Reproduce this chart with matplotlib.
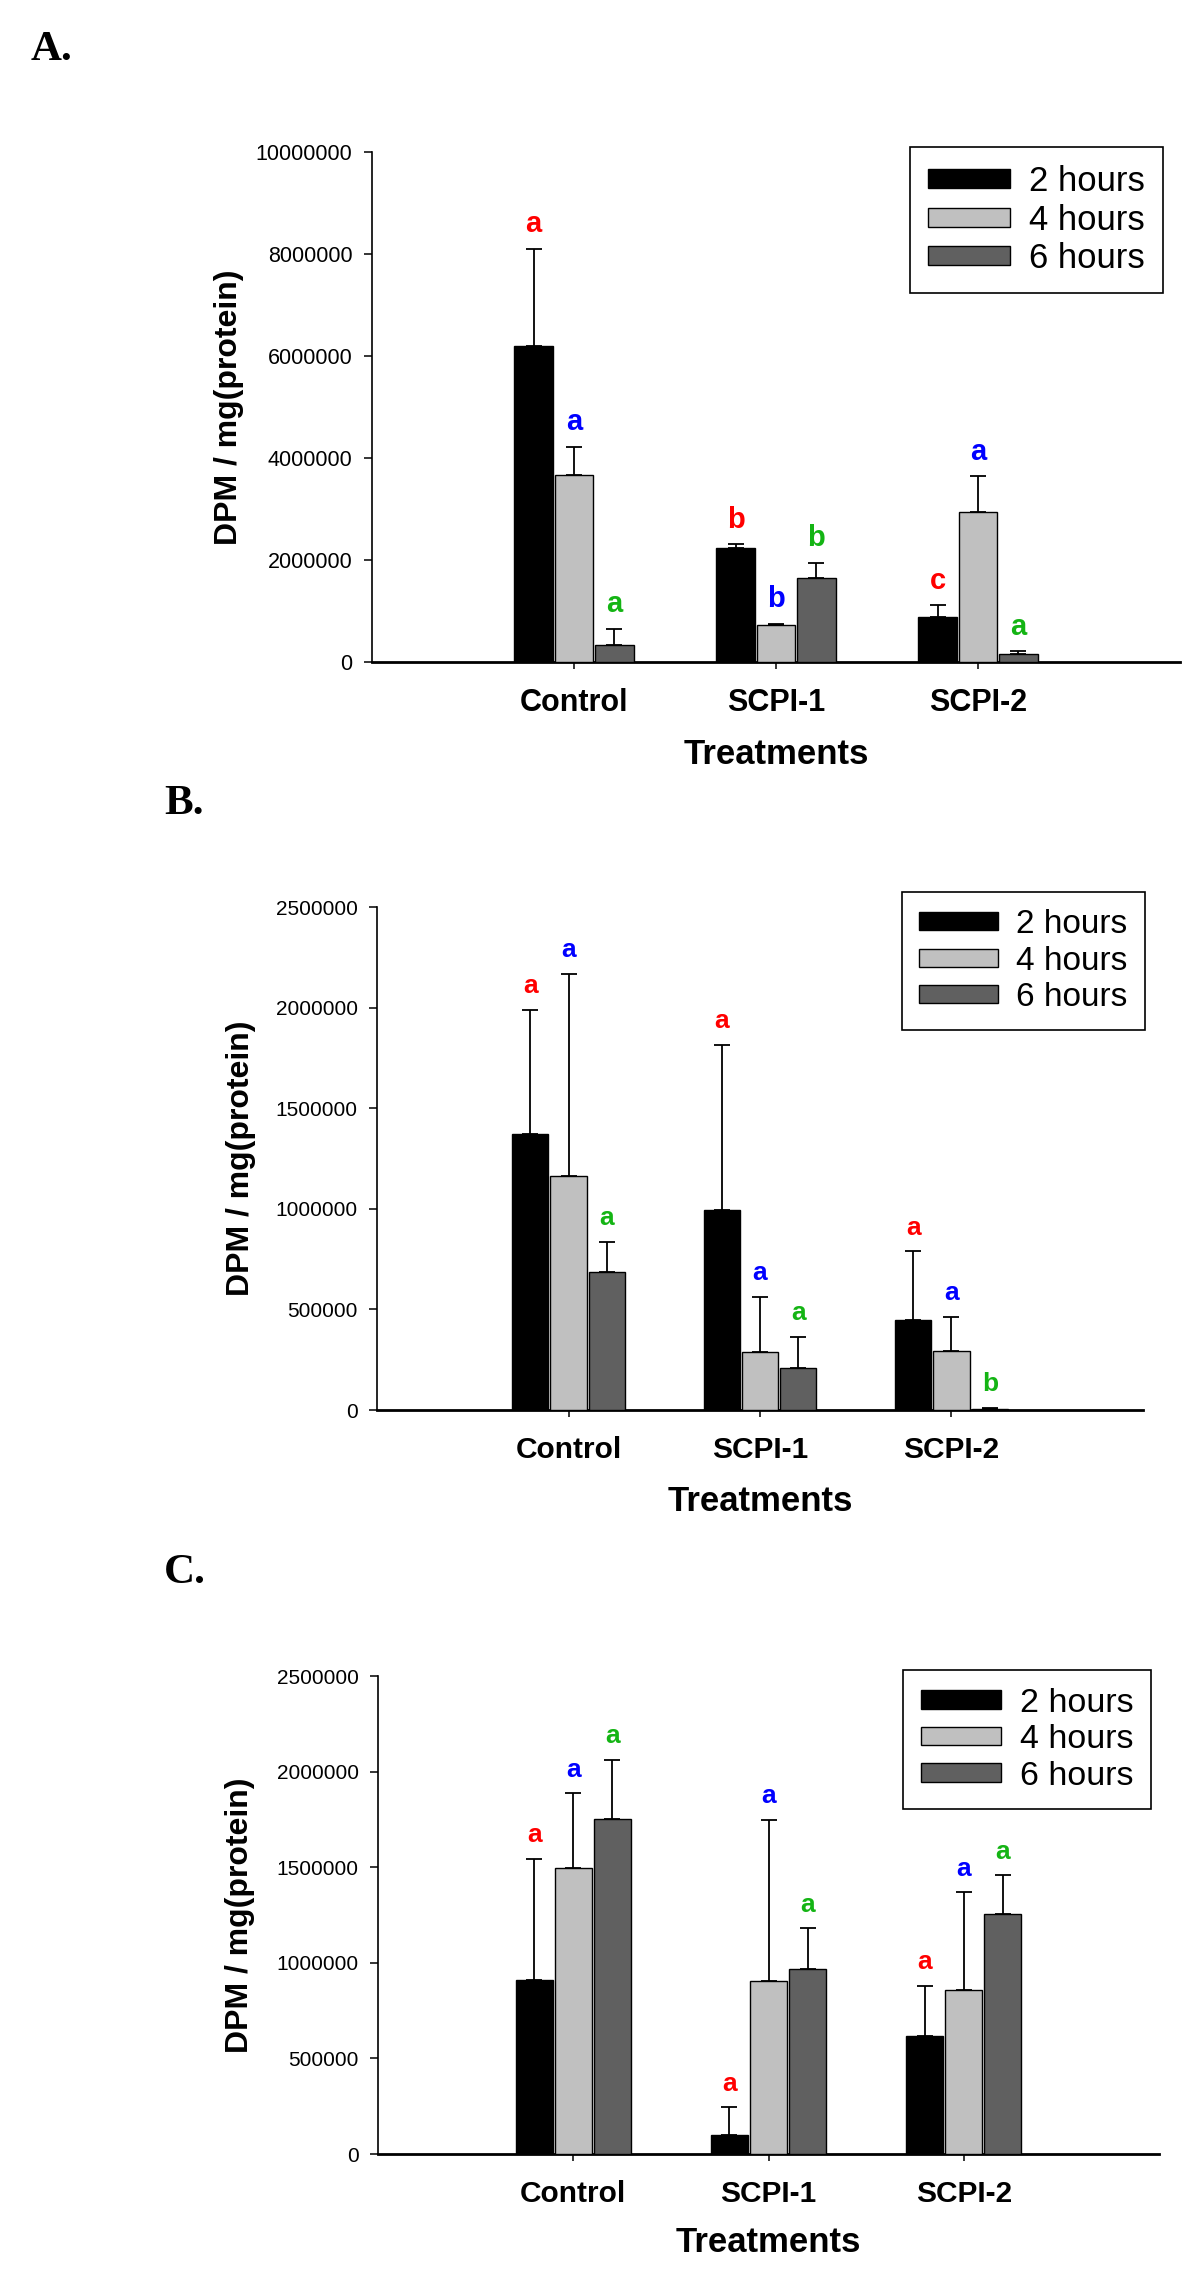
import matplotlib
matplotlib.use("Agg")
import numpy as np
from matplotlib import pyplot as plt
from matplotlib.ticker import FuncFormatter

plt.rcParams['font.family'] = ['Liberation Sans', 'DejaVu Sans']

treatments = ['Control', 'SCPI-1', 'SCPI-2']
series = ['2 hours', '4 hours', '6 hours']
bar_colors = ['#000000', '#c0c0c0', '#606060']
letter_colors = ['#ff0000', '#0000ff', '#14b414']

# panel A
a_mean_2h = [6200000, 2230000, 890000]
a_mean_4h = [3660000, 720000, 2940000]
a_mean_6h = [340000, 1650000, 160000]
a_err_2h = [1900000, 80000, 220000]
a_err_4h = [560000, 30000, 700000]
a_err_6h = [305000, 290000, 50000]
a_letters_2h = ['a', 'b', 'c']
a_letters_4h = ['a', 'b', 'a']
a_letters_6h = ['a', 'b', 'a']

# panel B
b_mean_2h = [1373000, 993000, 445000]
b_mean_4h = [1161000, 289000, 294000]
b_mean_6h = [688000, 210000, 7000]
b_err_2h = [617000, 823000, 343000]
b_err_4h = [1006000, 272000, 168000]
b_err_6h = [149000, 153000, 3000]
b_letters_2h = ['a', 'a', 'a']
b_letters_4h = ['a', 'a', 'a']
b_letters_6h = ['a', 'a', 'b']

# panel C
c_mean_2h = [911000, 101000, 616000]
c_mean_4h = [1495000, 904000, 860000]
c_mean_6h = [1751000, 967000, 1254000]
c_err_2h = [632000, 143000, 262000]
c_err_4h = [392000, 844000, 508000]
c_err_6h = [312000, 214000, 204000]
c_letters_2h = ['a', 'a', 'a']
c_letters_4h = ['a', 'a', 'a']
c_letters_6h = ['a', 'a', 'a']

W, H = 1200, 2280
fig = plt.figure(figsize=(W / 100, H / 100), dpi=100)


def px_axes(left, right, top, bottom):
    return fig.add_axes([left / W, 1 - bottom / H, (right - left) / W, (bottom - top) / H])


def draw_panel(ax, means, errs, letters, ymax, ystep, legend_at, sizes):
    tick_fs, cat_fs, letter_fs, leg_fs = sizes
    x = np.arange(len(treatments))
    width = 0.19
    for i, (m, e, lab) in enumerate(zip(means, errs, letters)):
        pos = x + (i - 1) * 0.2
        ax.bar(pos, m, width, color=bar_colors[i], edgecolor='black', linewidth=1.0,
               label=series[i], zorder=3)
        ax.errorbar(pos, m, yerr=[np.zeros(len(m)), e], fmt='none', ecolor='black',
                    elinewidth=1.3, capsize=5.5, capthick=1.3, zorder=2)
        for xi, top, s in zip(pos, np.array(m) + np.array(e), lab):
            ax.annotate(s, (xi, top), xytext=(0, 12), textcoords='offset points',
                        ha='center', va='baseline', color=letter_colors[i],
                        fontsize=letter_fs, fontweight='bold')

    ax.set_xlim(-1, 3)
    ax.set_ylim(0, ymax)
    ax.set_yticks(np.arange(0, ymax + 1, ystep))
    ax.yaxis.set_major_formatter(FuncFormatter(lambda v, p: f"{v:.0f}"))
    ax.set_xticks(x)
    ax.set_xticklabels(treatments, fontsize=cat_fs, fontweight='bold')
    ax.tick_params(axis='y', labelsize=tick_fs, length=6, width=1.1, pad=8)
    ax.tick_params(axis='x', length=5, width=1.1, pad=14)
    for side in ['top', 'right']:
        ax.spines[side].set_visible(False)
    ax.spines['left'].set_linewidth(1.2)
    ax.spines['bottom'].set_linewidth(2.0)

    ax.set_ylabel('DPM / mg(protein)', fontsize=23, fontweight='bold')
    ax.yaxis.set_label_coords(-0.158, 0.5)
    ax.set_xlabel('Treatments', fontsize=25, fontweight='bold')
    ax.xaxis.set_label_coords(0.5, -0.15)

    leg = ax.legend(loc='upper right', bbox_to_anchor=(legend_at[0] / W, 1 - legend_at[1] / H),
                    bbox_transform=fig.transFigure, borderaxespad=0, fontsize=leg_fs,
                    fancybox=False, framealpha=1, edgecolor='black', handlelength=2.36,
                    handleheight=0.45, handletextpad=0.55, labelspacing=0.16,
                    borderpad=0.52)
    leg.get_frame().set_linewidth(1.2)


ax_a = px_axes(372, 1180, 152, 662)
draw_panel(ax_a, [a_mean_2h, a_mean_4h, a_mean_6h], [a_err_2h, a_err_4h, a_err_6h],
           [a_letters_2h, a_letters_4h, a_letters_6h], 10000000, 2000000,
           (1163, 147), (15.5, 22, 21, 25))

ax_b = px_axes(377, 1143, 907, 1410)
draw_panel(ax_b, [b_mean_2h, b_mean_4h, b_mean_6h], [b_err_2h, b_err_4h, b_err_6h],
           [b_letters_2h, b_letters_4h, b_letters_6h], 2500000, 500000,
           (1145, 892), (15, 21.5, 19, 24))

ax_c = px_axes(378, 1159, 1676, 2154)
draw_panel(ax_c, [c_mean_2h, c_mean_4h, c_mean_6h], [c_err_2h, c_err_4h, c_err_6h],
           [c_letters_2h, c_letters_4h, c_letters_6h], 2500000, 500000,
           (1151, 1670), (15, 21.5, 19, 24.5))

panel_labels = ['A.', 'B.', 'C.']
label_pos = [(31, 50), (164, 804), (164, 1573)]
for lab, (lx, ly) in zip(panel_labels, label_pos):
    fig.text(lx / W, 1 - ly / H, lab, fontsize=31, fontweight='bold',
             family=['Liberation Serif', 'DejaVu Serif'], ha='left', va='center')

fig.savefig('out.png', dpi=100, facecolor='white')
